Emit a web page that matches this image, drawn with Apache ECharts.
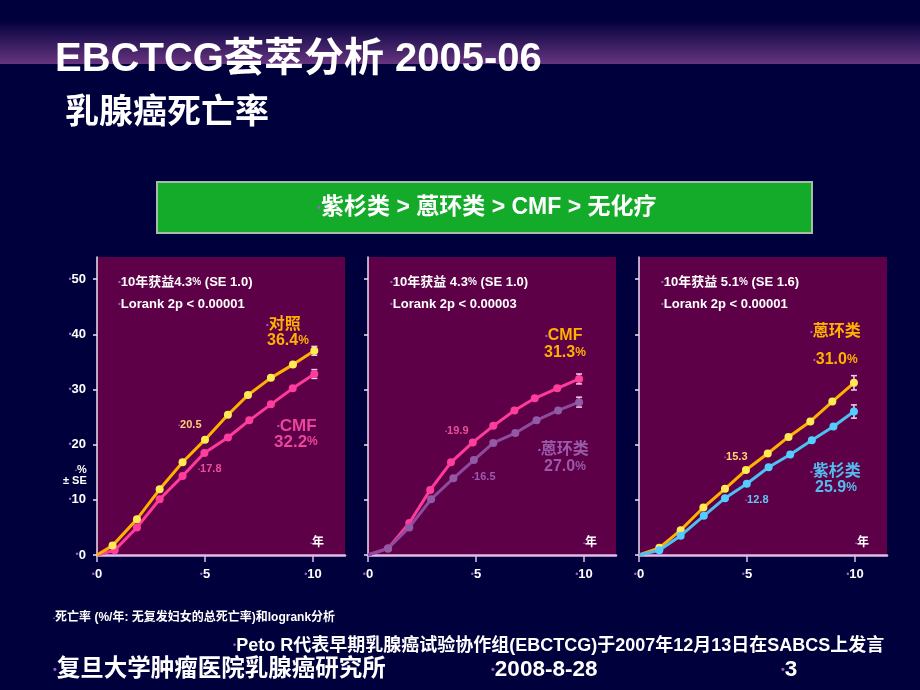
<!DOCTYPE html>
<html><head><meta charset="utf-8">
<script src="https://cdn.jsdelivr.net/npm/echarts@6/dist/echarts.min.js"></script>
<style>html,body{margin:0;padding:0;background:#00003c;}#c{width:920px;height:690px;}</style>
</head><body><div id="c"></div>
<script>
// ---- data ----
const xTickValues = [0, 5, 10];
const yTickValues = [0, 10, 20, 30, 40, 50];

// Panel 1: 对照 vs CMF
const p1ControlX = [0, 0.72, 1.85, 2.9, 3.96, 5.0, 6.06, 6.99, 8.05, 9.07, 10.06];
const p1ControlY = [0, 1.7, 6.5, 11.9, 16.8, 20.9, 25.4, 29.0, 32.1, 34.5, 37.0];
const p1CmfX = [0, 0.82, 1.85, 2.9, 3.96, 4.97, 6.06, 7.05, 8.05, 9.06, 10.06];
const p1CmfY = [0, 0.85, 5.0, 10.1, 14.3, 18.5, 21.3, 24.4, 27.3, 30.2, 32.8];
// Panel 2: CMF vs 蒽环类
const p2CmfX = [0, 0.93, 1.91, 2.88, 3.84, 4.85, 5.8, 6.78, 7.72, 8.76, 9.77];
const p2CmfY = [0, 1.2, 5.8, 11.8, 16.8, 20.4, 23.4, 26.2, 28.4, 30.2, 31.9];
const p2AnthX = [0, 0.93, 1.91, 2.92, 3.95, 4.9, 5.8, 6.82, 7.8, 8.8, 9.77];
const p2AnthY = [0, 1.2, 5.0, 10.1, 13.9, 17.2, 20.3, 22.1, 24.4, 26.2, 27.7];
// Panel 3: 蒽环类 vs 紫杉类
const p3AnthX = [0, 0.94, 1.93, 2.98, 3.98, 4.95, 5.96, 6.92, 7.93, 8.95, 9.95];
const p3AnthY = [0, 1.3, 4.5, 8.6, 12.0, 15.4, 18.4, 21.4, 24.2, 27.8, 31.2];
const p3TaxX = [0, 0.94, 1.93, 3.0, 3.98, 4.99, 6.0, 7.0, 8.0, 9.0, 9.95];
const p3TaxY = [0, 0.85, 3.5, 7.1, 10.3, 12.9, 15.9, 18.2, 20.8, 23.3, 26.0];
// Error bars at 10 years (x, low, high)
const p1ErrX = [10.06, 10.06], p1ErrLo = [36.2, 32.0], p1ErrHi = [37.8, 33.6];
const p2ErrX = [9.77, 9.77],  p2ErrLo = [31.0, 26.8], p2ErrHi = [32.8, 28.6];
const p3ErrX = [9.95, 9.95],  p3ErrLo = [29.9, 24.8], p3ErrHi = [32.5, 27.2];

// ---- styling ----
const FF = '"Liberation Sans", "Noto Sans CJK SC", sans-serif';
const BUL = '#9a62c8';
const ORANGE = '#ffb000', PINK = '#ff3a9a', PURPLE = '#8c4c9e', BLUE = '#4cc0f0';
const PANEL_BG = '#5e0048';
const PANEL_LEFT = [97, 368, 639];

function pts(xs, ys) {
  return xs.map((x, i) => i === 0 ? { value: [x, ys[i]], symbolSize: 0 } : [x, ys[i]]);
}
function lineSeries(idx, xs, ys, lineColor, markerColor, z) {
  return {
    type: 'line', xAxisIndex: idx, yAxisIndex: idx, data: pts(xs, ys), z: z,
    symbol: 'circle', symbolSize: 8, showAllSymbol: true, animation: false,
    lineStyle: { color: lineColor, width: 3 },
    itemStyle: { color: markerColor }
  };
}
function errSeries(idx, xs, lo, hi) {
  return {
    type: 'custom', xAxisIndex: idx, yAxisIndex: idx, z: 1, animation: false,
    data: xs.map((x, i) => [x, lo[i], hi[i]]),
    renderItem(params, api) {
      const a = api.coord([api.value(0), api.value(1)]);
      const b = api.coord([api.value(0), api.value(2)]);
      const w = 3, st = { stroke: '#f2cfe8', lineWidth: 1.5 };
      return { type: 'group', children: [
        { type: 'line', shape: { x1: a[0], y1: a[1], x2: b[0], y2: b[1] }, style: st },
        { type: 'line', shape: { x1: a[0] - w, y1: a[1], x2: a[0] + w, y2: a[1] }, style: st },
        { type: 'line', shape: { x1: b[0] - w, y1: b[1], x2: b[0] + w, y2: b[1] }, style: st }
      ]};
    }
  };
}
function txt(x, y, parts, align) {
  const rich = {}; let s = '';
  parts.forEach((p, i) => {
    const k = 's' + i;
    rich[k] = { fill: p[1], fontSize: p[2], fontWeight: p[3] || 'bold', fontFamily: FF };
    s += '{' + k + '|' + p[0] + '}';
  });
  return { type: 'text', silent: true, z: 100, style: { text: s, x: x, y: y, rich: rich, align: align || 'left', verticalAlign: 'middle' } };
}
const b = (sz) => ['•', BUL, sz];

const grids = PANEL_LEFT.map(l => ({ left: l, top: 257, width: 248, height: 298, show: true, backgroundColor: PANEL_BG, borderWidth: 0 }));
const xAxes = PANEL_LEFT.map((l, i) => ({
  type: 'value', gridIndex: i, min: 0, max: 11.48,
  axisLine: { lineStyle: { color: '#e2bce8', width: 2.5 } },
  axisTick: { show: true, customValues: xTickValues, length: 7, lineStyle: { color: '#e2bce8', width: 1.5 } },
  axisLabel: { customValues: xTickValues, margin: 13, formatter: v => '{b|•}{v|' + v + '}',
    rich: { b: { color: BUL, fontSize: 9 }, v: { color: '#ffffff', fontSize: 13, fontWeight: 'bold', fontFamily: FF } } },
  splitLine: { show: false }
}));
const yAxes = PANEL_LEFT.map((l, i) => ({
  type: 'value', gridIndex: i, min: 0, max: 54,
  axisLine: { show: true, lineStyle: { color: '#efe2f2', width: 1.5 } },
  axisTick: { show: true, customValues: yTickValues, length: 4, lineStyle: { color: '#efe2f2', width: 1.5 } },
  axisLabel: { show: i === 0, customValues: yTickValues, margin: 11, formatter: v => '{b|•}{v|' + v + '}',
    rich: { b: { color: BUL, fontSize: 9 }, v: { color: '#ffffff', fontSize: 13, fontWeight: 'bold', fontFamily: FF } } },
  splitLine: { show: false }
}));

const series = [
  errSeries(0, p1ErrX, p1ErrLo, p1ErrHi),
  lineSeries(0, p1CmfX, p1CmfY, PINK, '#ff3d9c', 2),
  lineSeries(0, p1ControlX, p1ControlY, ORANGE, '#ffea55', 3),
  errSeries(1, p2ErrX, p2ErrLo, p2ErrHi),
  lineSeries(1, p2CmfX, p2CmfY, PINK, '#ff3d9c', 2),
  lineSeries(1, p2AnthX, p2AnthY, PURPLE, '#925aa4', 3),
  errSeries(2, p3ErrX, p3ErrLo, p3ErrHi),
  lineSeries(2, p3AnthX, p3AnthY, ORANGE, '#ffea55', 2),
  lineSeries(2, p3TaxX, p3TaxY, BLUE, '#55ccff', 3)
];

const W = '#ffffff';
const graphic = [
  { type: 'rect', silent: true, z: 0, shape: { x: 0, y: 20, width: 920, height: 44 },
    style: { fill: new echarts.graphic.LinearGradient(0, 0, 0, 1, [{ offset: 0, color: '#00003c' }, { offset: 1, color: '#66357f' }]) } },
  txt(55, 60, [['EBCTCG荟萃分析 2005-06', W, 40]]),
  txt(65, 114, [['乳腺癌死亡率', W, 34]]),
  { type: 'rect', silent: true, z: 1, shape: { x: 157, y: 182, width: 655, height: 51 },
    style: { fill: '#14aa2a', stroke: '#a6bca6', lineWidth: 2 } },
  txt(487, 208, [b(10), ['紫杉类 > 蒽环类 > CMF > 无化疗', W, 23]], 'center'),

  // panel 1
  txt(118, 282, [b(8), ['10年获益4.3', W, 13], ['%', W, 10], [' (SE 1.0)', W, 13]]),
  txt(118, 304, [b(8), ['Lorank 2p < 0.00001', W, 13]]),
  txt(266, 325, [b(8), ['对照', ORANGE, 16]]),
  txt(267, 341, [['36.4', ORANGE, 16], ['%', ORANGE, 12]]),
  txt(277, 426, [b(8), ['CMF', '#ec459c', 17]]),
  txt(274, 442, [['32.2', '#ec459c', 17], ['%', '#ec459c', 12]]),
  txt(178, 425, [b(6), ['20.5', '#ffd27a', 11]]),
  txt(198, 469, [b(6), ['17.8', '#e8509a', 11]]),
  txt(75, 470, [b(6), ['%', W, 11]]),
  txt(63, 481, [['± SE', W, 11]]),
  txt(310, 543, [b(6), ['年', W, 12]]),

  // panel 2
  txt(390, 282, [b(8), ['10年获益 4.3', W, 13], ['%', W, 10], [' (SE 1.0)', W, 13]]),
  txt(390, 304, [b(8), ['Lorank 2p < 0.00003', W, 13]]),
  txt(545, 336, [b(8), ['CMF', ORANGE, 16]]),
  txt(544, 353, [['31.3', ORANGE, 16], ['%', ORANGE, 12]]),
  txt(445, 431, [b(6), ['19.9', '#e8509a', 11]]),
  txt(472, 477, [b(6), ['16.5', '#9a5aaa', 11]]),
  txt(538, 450, [b(8), ['蒽环类', '#9a5aaa', 16]]),
  txt(544, 467, [['27.0', '#9a5aaa', 16], ['%', '#9a5aaa', 12]]),
  txt(583, 543, [b(6), ['年', W, 12]]),

  // panel 3
  txt(661, 282, [b(8), ['10年获益 5.1', W, 13], ['%', W, 10], [' (SE 1.6)', W, 13]]),
  txt(661, 304, [b(8), ['Lorank 2p < 0.00001', W, 13]]),
  txt(810, 332, [b(8), ['蒽环类', ORANGE, 16]]),
  txt(813, 360, [b(8), ['31.0', ORANGE, 16], ['%', ORANGE, 12]]),
  txt(724, 457, [b(6), ['15.3', '#ffd27a', 11]]),
  txt(745, 500, [b(6), ['12.8', '#66c4f0', 11]]),
  txt(810, 472, [b(8), ['紫杉类', '#55bbee', 16]]),
  txt(815, 488, [['25.9', '#55bbee', 16], ['%', '#55bbee', 12]]),
  txt(855, 543, [b(6), ['年', W, 12]]),

  // footer
  txt(53, 618, [b(6), ['死亡率 (%/年: 无复发妇女的总死亡率)和logrank分析', W, 12]]),
  txt(233, 646, [b(9), ['Peto R代表早期乳腺癌试验协作组(EBCTCG)于2007年12月13日在SABCS上发言', W, 18]]),
  txt(53, 670, [b(11), ['复旦大学肿瘤医院乳腺癌研究所', W, 23.5]]),
  txt(491, 670, [b(11), ['2008-8-28', W, 22.5]]),
  txt(781, 670, [b(11), ['3', W, 22.5]])
];

const chart = echarts.init(document.getElementById('c'), null, { renderer: 'canvas' });
chart.setOption({
  backgroundColor: '#00003c',
  animation: false,
  grid: grids, xAxis: xAxes, yAxis: yAxes, series: series, graphic: graphic
});
</script></body></html>
